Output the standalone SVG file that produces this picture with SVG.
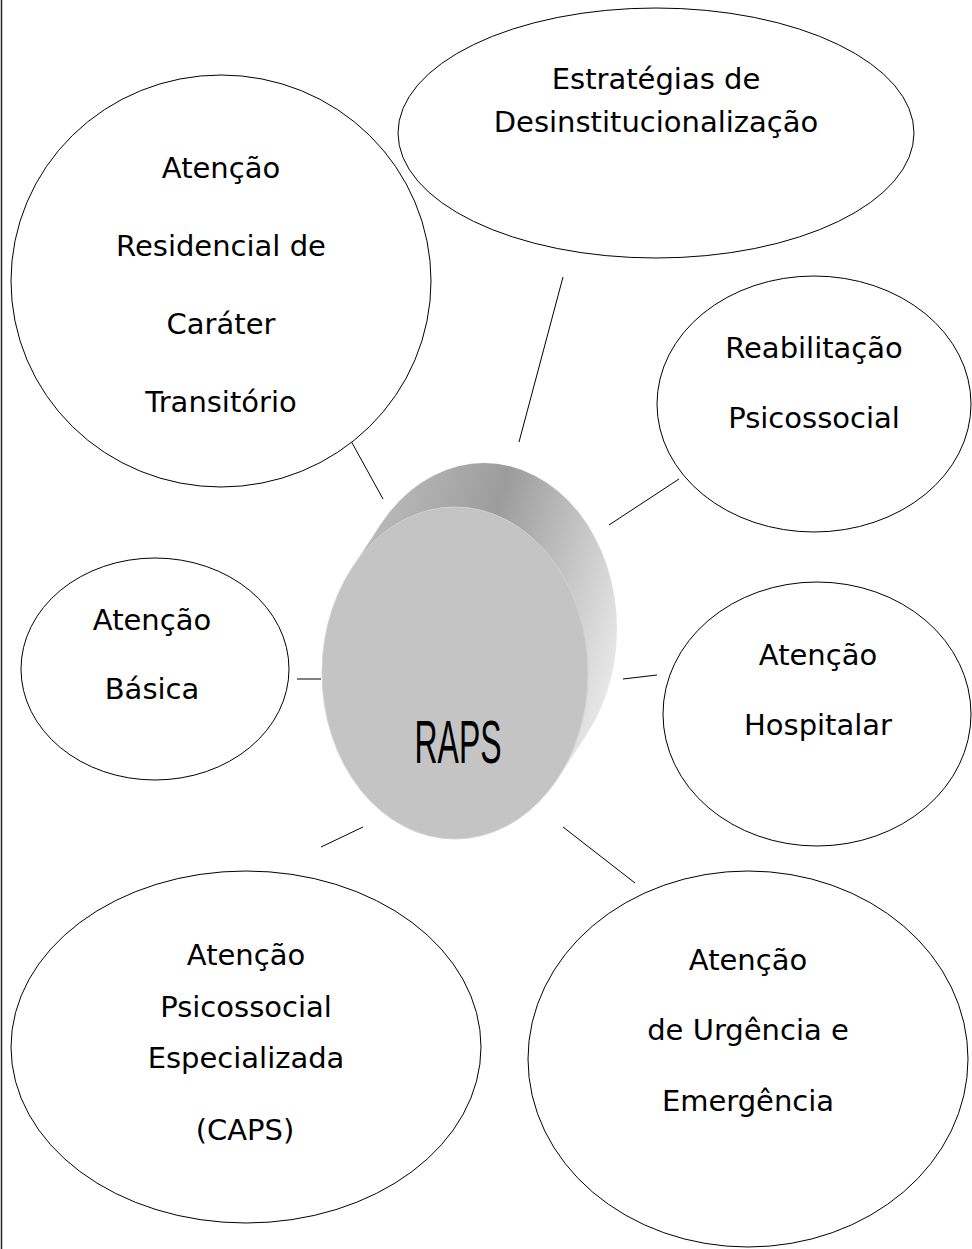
<svg xmlns="http://www.w3.org/2000/svg" width="972" height="1249" viewBox="0 0 972 1249">
  <style>
    .node ellipse { fill: #ffffff; stroke: #000000; stroke-width: 1; }
    .lbl { font-family: "DejaVu Sans", "Liberation Sans", sans-serif; font-size: 29px; fill: #000000; text-anchor: middle; }
    .conn line { stroke: #000000; stroke-width: 1; }
  </style>
  <defs>
    <linearGradient id="side" gradientUnits="userSpaceOnUse" x1="350" y1="560" x2="620" y2="640">
      <stop offset="0" stop-color="#bdbdbd"/>
      <stop offset="0.45" stop-color="#9c9c9c"/>
      <stop offset="1" stop-color="#e6e6e6"/>
    </linearGradient>
  </defs>
  <rect x="0" y="0" width="972" height="1249" fill="#ffffff"/>
  <line x1="1.5" y1="0" x2="1.5" y2="1249" stroke="#222222" stroke-width="1.5"/>

  <g class="conn" id="connectors">
    <line x1="563" y1="277" x2="519" y2="442"/>
    <line x1="351" y1="441" x2="383" y2="499"/>
    <line x1="679" y1="479" x2="609" y2="525"/>
    <line x1="297" y1="679" x2="321" y2="679"/>
    <line x1="623" y1="679" x2="657" y2="675"/>
    <line x1="321" y1="847" x2="363" y2="827"/>
    <line x1="563" y1="827" x2="635" y2="883"/>
  </g>

  <g class="node" id="node-desinst">
    <ellipse cx="656" cy="133" rx="258" ry="125"/>
    <text class="lbl" x="656" y="89">Estratégias de</text>
    <text class="lbl" x="656" y="132">Desinstitucionalização</text>
  </g>

  <g class="node" id="node-residencial">
    <ellipse cx="221" cy="281" rx="210" ry="206"/>
    <text class="lbl" x="221" y="178">Atenção</text>
    <text class="lbl" x="221" y="256">Residencial de</text>
    <text class="lbl" x="221" y="334">Caráter</text>
    <text class="lbl" x="221" y="412">Transitório</text>
  </g>

  <g class="node" id="node-reabilitacao">
    <ellipse cx="814" cy="404" rx="157" ry="128"/>
    <text class="lbl" x="814" y="358">Reabilitação</text>
    <text class="lbl" x="814" y="428">Psicossocial</text>
  </g>

  <g class="node" id="node-basica">
    <ellipse cx="155" cy="669" rx="134" ry="111"/>
    <text class="lbl" x="152" y="630">Atenção</text>
    <text class="lbl" x="152" y="699">Básica</text>
  </g>

  <g class="node" id="node-hospitalar">
    <ellipse cx="817" cy="714" rx="154" ry="132"/>
    <text class="lbl" x="818" y="665">Atenção</text>
    <text class="lbl" x="818" y="735">Hospitalar</text>
  </g>

  <g class="node" id="node-caps">
    <ellipse cx="246" cy="1047" rx="235" ry="176"/>
    <text class="lbl" x="246" y="965">Atenção</text>
    <text class="lbl" x="246" y="1017">Psicossocial</text>
    <text class="lbl" x="246" y="1068">Especializada</text>
    <text class="lbl" x="245" y="1140">(CAPS)</text>
  </g>

  <g class="node" id="node-urgencia">
    <ellipse cx="748" cy="1059" rx="220" ry="188"/>
    <text class="lbl" x="748" y="970">Atenção</text>
    <text class="lbl" x="748" y="1040">de Urgência e</text>
    <text class="lbl" x="748" y="1111">Emergência</text>
  </g>

  <g id="node-raps">
    <ellipse cx="484" cy="629" rx="133" ry="166" fill="url(#side)"/>
    <polygon points="352.3,567.6 381.3,523.6 586.7,734.4 557.7,778.4" fill="url(#side)"/>
    <ellipse cx="455" cy="673" rx="133" ry="166" fill="#c4c4c4" stroke="#d2d2d2" stroke-width="1"/>
    <text x="458" y="763" font-family="'Liberation Sans Narrow', 'Liberation Sans', sans-serif" font-size="61" textLength="87" lengthAdjust="spacingAndGlyphs" text-anchor="middle" fill="#000000">RAPS</text>
  </g>
</svg>
